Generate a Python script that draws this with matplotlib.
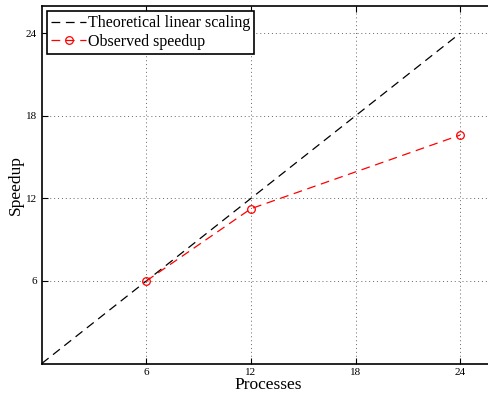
import matplotlib.pyplot as plt

# data
ideal_procs = [0, 6, 12, 18, 24]
ideal_speedup = [0, 6, 12, 18, 24]
procs = [6, 12, 24]
speedup = [6.0, 11.25, 16.6]
ticks = [6, 12, 18, 24]


def main():
    plt.rcParams['font.family'] = ['Liberation Serif', 'DejaVu Serif']
    fig = plt.figure(figsize=(4.88, 3.96), dpi=100)
    ax = fig.add_axes([0.0855, 0.082, 0.9288, 0.9035])

    ax.plot(ideal_procs, ideal_speedup, '--', color='black', lw=0.9,
            dashes=(7, 4.5), label='Theoretical linear scaling')
    ax.plot(procs, speedup, '--', color='red', lw=0.9, dashes=(7, 4.5),
            marker='o', mfc='none', mec='red', ms=5.5, mew=0.9,
            label='Observed speedup')

    ax.set_xlim(0, 26)
    ax.set_ylim(0, 26)
    ax.set_xticks(ticks)
    ax.set_yticks(ticks)
    ax.tick_params(direction='in', length=4, width=0.8, labelsize=8,
                   top=True, right=True)
    ax.grid(True, linestyle=(0, (1, 3)), color='#666666', lw=0.7)
    for s in ax.spines.values():
        s.set_linewidth(1.2)

    ax.set_xlabel('Processes', fontsize=12.5, labelpad=0)
    ax.set_ylabel('Speedup', fontsize=12.5, labelpad=1)

    leg = ax.legend(loc='upper left', fontsize=11.5, fancybox=False,
                    framealpha=1, edgecolor='black', borderpad=0.25,
                    labelspacing=0.15, handlelength=2.2, handletextpad=0.1,
                    borderaxespad=0.35)
    leg.get_frame().set_linewidth(1.2)

    fig.savefig('out.png', dpi=100)


if __name__ == "__main__":
    main()
